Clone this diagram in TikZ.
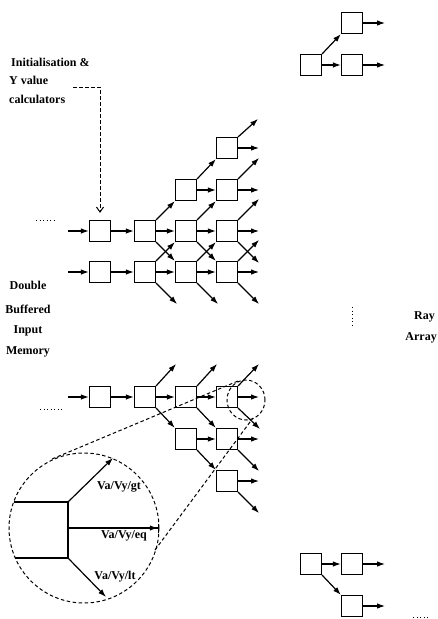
\documentclass[tikz,border=0pt]{standalone}
\usepackage{fontspec}
\setmainfont{Liberation Serif}
\usetikzlibrary{arrows.meta,shapes.geometric}
\begin{document}
\begin{tikzpicture}[x=1pt,y=-1pt,
  box/.style={draw,line width=1.2pt,minimum size=21pt,inner sep=0pt},
  arr/.style={line width=1.2pt,-{Latex[length=8pt,width=5.5pt]}},
  lbl/.style={font=\fontsize{12}{14}\selectfont\bfseries,inner sep=0pt},
  dsh/.style={line width=1pt,dash pattern=on 3.5pt off 2.5pt},
  dotline/.style={line width=0.9pt,dash pattern=on 1pt off 2.5pt}]
\useasboundingbox (0,0) rectangle (438,619);

% ---------- boxes, upper array ----------
\node[box] (T4) at (227,148) {};
\node[box] (U3) at (186,190) {};
\node[box] (U4) at (227,190) {};
\foreach \n/\x in {1/100,2/145,3/186,4/227}{
  \node[box] (A\n) at (\x,231) {};
  \node[box] (B\n) at (\x,272) {};
  \node[box] (C\n) at (\x,397) {};
}
\node[box] (D3) at (186,439) {};
\node[box] (D4) at (227,439) {};
\node[box] (E4) at (227,481) {};

% ---------- right groups ----------
\node[box] (R1) at (311,65) {};
\node[box] (R2) at (352,23) {};
\node[box] (R3) at (352,65) {};
\node[box] (S1) at (311,564) {};
\node[box] (S2) at (352,564) {};
\node[box] (S3) at (352,606) {};

% ---------- input arrows ----------
\coordinate (inA) at (68,231);
\coordinate (inB) at (68,272);
\coordinate (inC) at (68,397);
\draw[arr] (inA) -- (A1);
\draw[arr] (inB) -- (B1);
\draw[arr] (inC) -- (C1);

% ---------- upper array connections ----------
\draw[arr] (A1) -- (A2);
\draw[arr] (A2) -- (A3);
\draw[arr] (A3) -- (A4);
\draw[arr] (B1) -- (B2);
\draw[arr] (B2) -- (B3);
\draw[arr] (B3) -- (B4);
\draw[arr] (U3) -- (U4);
\draw[arr] (A2.north east) -- (U3.south west);
\draw[arr] (A3.north east) -- (U4.south west);
\draw[arr] (U3.north east) -- (T4.south west);
\draw[arr] (A2.south east) -- (B3.north west);
\draw[arr] (B2.north east) -- (A3.south west);
\draw[arr] (A3.south east) -- (B4.north west);
\draw[arr] (B3.north east) -- (A4.south west);
% outputs
\draw[arr] (T4.east) -- ++(21,0);
\draw[arr] (T4.north east) -- ++(20,-18);
\draw[arr] (U4.east) -- ++(21,0);
\draw[arr] (U4.north east) -- ++(21,-21);
\draw[arr] (A4.east) -- ++(21,0);
\draw[arr] (A4.north east) -- ++(21,-21);
\draw[arr] (A4.south east) -- ++(21,21);
\draw[arr] (B4.east) -- ++(21,0);
\draw[arr] (B4.north east) -- ++(21,-21);
\draw[arr] (B2.south east) -- ++(21,21);
\draw[arr] (B3.south east) -- ++(21,21);
\draw[arr] (B4.south east) -- ++(21,21);

% ---------- lower array connections ----------
\draw[arr] (C1) -- (C2);
\draw[arr] (C2) -- (C3);
\draw[arr] (C3) -- (C4);
\draw[arr] (C4.east) -- ++(21,0);
\draw[arr] (C2.north east) -- ++(20,-22);
\draw[arr] (C3.north east) -- ++(20,-22);
\draw[arr] (C4.north east) -- ++(21,-22);
\draw[arr] (C2.south east) -- (D3.north west);
\draw[arr] (C3.south east) -- (D4.north west);
\draw[arr] (C4.south east) -- ++(22,21);
\draw[arr] (D3) -- (D4);
\draw[arr] (D4.east) -- ++(21,0);
\draw[arr] (D3.south east) -- (E4.north west);
\draw[arr] (D4.south east) -- ++(21,21);
\draw[arr] (E4.east) -- ++(21,0);
\draw[arr] (E4.south east) -- ++(21,21);

% ---------- right groups connections ----------
\draw[arr] (R1) -- (R3);
\draw[arr] (R1.north east) -- (R2.south west);
\draw[arr] (R2.east) -- ++(22,0);
\draw[arr] (R3.east) -- ++(22,0);
\draw[arr] (S1) -- (S2);
\draw[arr] (S1.south east) -- (S3.north west);
\draw[arr] (S2.east) -- ++(22,0);
\draw[arr] (S3.east) -- ++(22,0);

% ---------- dots ----------
\draw[dotline] (36,220) -- (56,220);
\draw[dotline] (40,409) -- (63,409);
\draw[dotline] (413,617) -- (429,617);
\draw[dotline] (352,307) -- (352,328);

% ---------- labels ----------
\node[lbl,anchor=west] (init) at (11,62) {Initialisation \&};
\node[lbl,anchor=west] (yval) at (9,80) {Y value};
\node[lbl,anchor=west] (calc) at (9,99) {calculators};
\coordinate (ptrS) at (73,87);
\coordinate (ptrC) at (100,87);
\draw[dsh,-{Straight Barb[length=5pt,width=7pt]},shorten >=7pt] (ptrS) -- (ptrC) -- (A1.north);

\node[lbl] (dbl) at (28,285) {Double};
\node[lbl] (buf) at (28,309) {Buffered};
\node[lbl] (inp) at (28,331) {Input};
\node[lbl] (mem) at (28,352) {Memory};

\node[lbl,anchor=east] (ray) at (435,317) {Ray};
\node[lbl,anchor=east] (arry) at (437,338) {Array};

% ---------- magnifier ----------
\node[draw,dsh,ellipse,minimum width=38pt,minimum height=40pt,inner sep=0pt] (small) at (246,400) {};
\coordinate (bigc) at (84,528);
\draw[dsh] (bigc) circle[radius=75pt];
\coordinate (upA) at (52,459);
\coordinate (upB) at (238,381);
\coordinate (loA) at (155,550);
\coordinate (loB) at (253,418);
\draw[dsh] (upA) -- (upB);
\draw[dsh] (loA) -- (loB);

\coordinate (mTL) at (13.7,502);
\coordinate (mTR) at (68,502);
\coordinate (mBR) at (68,558);
\coordinate (mBL) at (15.3,558);
\coordinate (mMid) at (68,528);
\coordinate (gtEnd) at (113,458);
\coordinate (eqEnd) at (159,528);
\coordinate (ltEnd) at (106,597);
\draw[line width=1.2pt] (mTL) -- (mTR) -- (mBR) -- (mBL);
\draw[arr] (mTR) -- (gtEnd);
\draw[line width=1.2pt,-{Latex[length=8pt,width=5.5pt]Bar[width=9pt]}] (mMid) -- (eqEnd);
\draw[arr] (mBR) -- (ltEnd);
\node[lbl] (gt) at (119,487) {Va/Vy/gt};
\node[lbl] (eq) at (124,536) {Va/Vy/eq};
\node[lbl] (lt) at (115,577) {Va/Vy/lt};
\end{tikzpicture}
\end{document}
